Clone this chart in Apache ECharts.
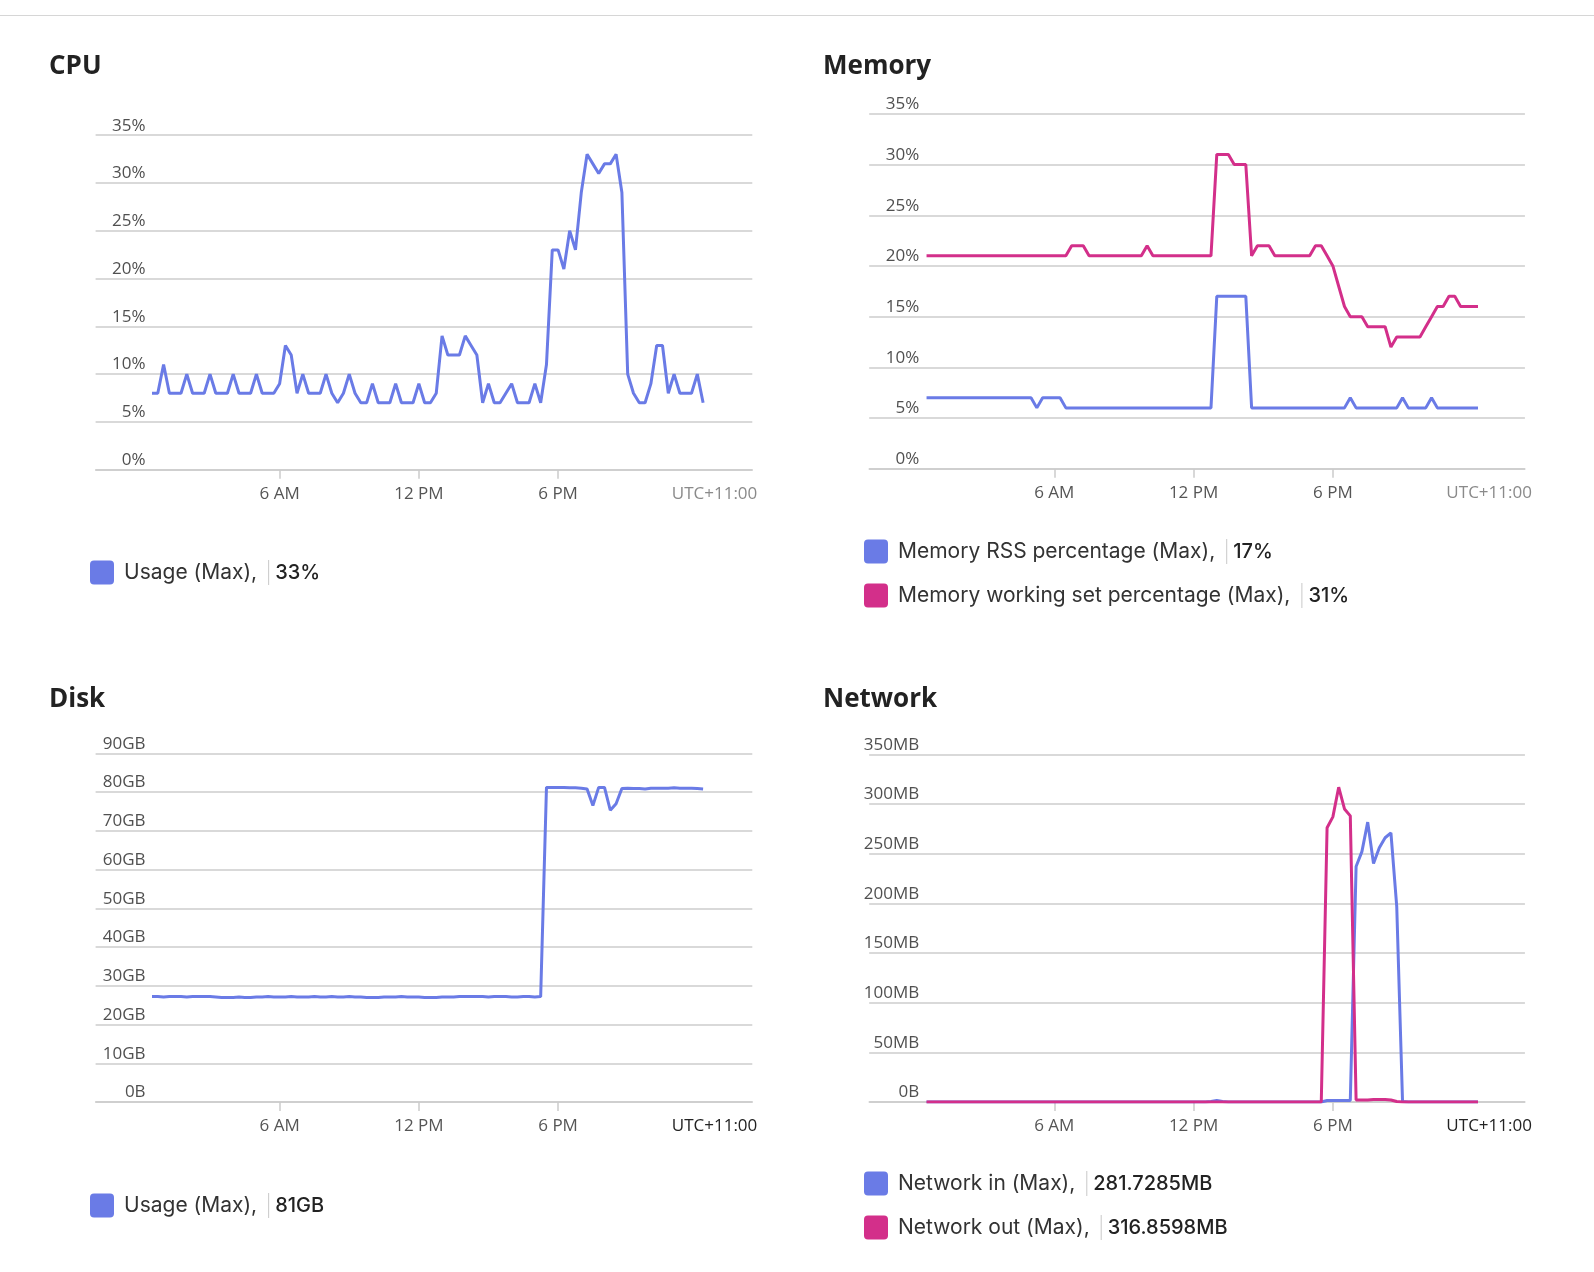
<!DOCTYPE html>
<html>
<head>
<meta charset="utf-8">
<title>Container metrics</title>
<script src="https://cdn.jsdelivr.net/npm/echarts@6/dist/echarts.min.js"></script>
<style>
    html, body { margin: 0; padding: 0; background: #ffffff; }
    body { width: 1594px; height: 1272px; position: relative; overflow: hidden; }
    #topline { position: absolute; left: 0; top: 15px; width: 1594px; height: 0; border-top: 1px solid #d6d6d6; }
    .panel { position: absolute; }
    #cpu { left: 0; top: 0; width: 797px; height: 632px; }
    #memory { left: 774px; top: 0; width: 820px; height: 632px; }
    #disk { left: 0; top: 632px; width: 797px; height: 640px; }
    #network { left: 774px; top: 632px; width: 820px; height: 640px; }
</style>
</head>
<body>
<div id="topline"></div>
<div id="cpu" class="panel"></div>
<div id="memory" class="panel"></div>
<div id="disk" class="panel"></div>
<div id="network" class="panel"></div>
<script>
// one sample every 15 minutes, from 00:30 to 00:15 next day (hours)
var startHour = 0.5
var stepHour = 0.25
var sampleCount = 96
var times = []
for (var i = 0; i < sampleCount; i++) {
    times.push(startHour + i * stepHour)
}

var tickHours = [6, 12, 18]
var tickLabels = ['6 AM', '12 PM', '6 PM']
var zoneLabel = 'UTC+11:00'

// CPU usage (%)
var cpuUsage = [
    8, 8, 11, 8, 8, 8, 10, 8,
    8, 8, 10, 8, 8, 8, 10, 8,
    8, 8, 10, 8, 8, 8, 9, 13,
    12, 8, 10, 8, 8, 8, 10, 8,
    7, 8, 10, 8, 7, 7, 9, 7,
    7, 7, 9, 7, 7, 7, 9, 7,
    7, 8, 14, 12, 12, 12, 14, 13,
    12, 7, 9, 7, 7, 8, 9, 7,
    7, 7, 9, 7, 11, 23, 23, 21,
    25, 23, 29, 33, 32, 31, 32, 32,
    33, 29, 10, 8, 7, 7, 9, 13,
    13, 8, 10, 8, 8, 8, 10, 7
]

// Memory RSS (%)
var memRss = [
    7, 7, 7, 7, 7, 7, 7, 7,
    7, 7, 7, 7, 7, 7, 7, 7,
    7, 7, 7, 6, 7, 7, 7, 7,
    6, 6, 6, 6, 6, 6, 6, 6,
    6, 6, 6, 6, 6, 6, 6, 6,
    6, 6, 6, 6, 6, 6, 6, 6,
    6, 6, 17, 17, 17, 17, 17, 17,
    6, 6, 6, 6, 6, 6, 6, 6,
    6, 6, 6, 6, 6, 6, 6, 6,
    6, 7, 6, 6, 6, 6, 6, 6,
    6, 6, 7, 6, 6, 6, 6, 7,
    6, 6, 6, 6, 6, 6, 6, 6
]

// Memory working set (%)
var memWorkingSet = [
    21, 21, 21, 21, 21, 21, 21, 21,
    21, 21, 21, 21, 21, 21, 21, 21,
    21, 21, 21, 21, 21, 21, 21, 21,
    21, 22, 22, 22, 21, 21, 21, 21,
    21, 21, 21, 21, 21, 21, 22, 21,
    21, 21, 21, 21, 21, 21, 21, 21,
    21, 21, 31, 31, 31, 30, 30, 30,
    21, 22, 22, 22, 21, 21, 21, 21,
    21, 21, 21, 22, 22, 21, 20, 18,
    16, 15, 15, 15, 14, 14, 14, 14,
    12, 13, 13, 13, 13, 13, 14, 15,
    16, 16, 17, 17, 16, 16, 16, 16
]

// Disk usage (GB)
var diskUsage = [
    27.2, 27.2, 27.1, 27.2, 27.2, 27.2, 27.1, 27.2,
    27.2, 27.2, 27.2, 27.1, 27.0, 27.0, 27.0, 27.1,
    27.0, 27.0, 27.1, 27.1, 27.2, 27.1, 27.1, 27.1,
    27.2, 27.1, 27.1, 27.1, 27.2, 27.1, 27.1, 27.2,
    27.1, 27.1, 27.2, 27.1, 27.1, 27.0, 27.0, 27.0,
    27.1, 27.1, 27.1, 27.2, 27.1, 27.1, 27.1, 27.0,
    27.0, 27.0, 27.1, 27.1, 27.1, 27.2, 27.2, 27.2,
    27.2, 27.2, 27.1, 27.2, 27.2, 27.2, 27.1, 27.1,
    27.2, 27.2, 27.1, 27.2, 81.2, 81.2, 81.2, 81.2,
    81.1, 81.1, 81.0, 80.8, 76.5, 81.2, 81.2, 75.3,
    77.0, 80.9, 81.0, 80.9, 80.9, 80.8, 81.0, 81.0,
    81.0, 81.0, 81.1, 81.0, 81.0, 81.0, 80.9, 80.8
]

// Network in (MB)
var netIn = [
    0, 0, 0, 0, 0, 0, 0, 0,
    0, 0, 0, 0, 0, 0, 0, 0,
    0, 0, 0, 0, 0, 0, 0, 0,
    0, 0, 0, 0, 0, 0, 0, 0,
    0, 0, 0, 0, 0, 0, 0, 0,
    0, 0, 0, 0, 0, 0, 0, 0,
    0, 0.5, 1.5, 0.5, 0, 0, 0, 0,
    0, 0, 0, 0, 0, 0, 0, 0,
    0, 0, 0, 0, 0, 1.5, 1.5, 1.5,
    1.5, 1.5, 237, 252, 281.7285, 240, 256, 266,
    271, 197, 0.5, 0, 0, 0, 0, 0,
    0, 0, 0, 0, 0, 0, 0, 0
]

// Network out (MB)
var netOut = [
    0, 0, 0, 0, 0, 0, 0, 0,
    0, 0, 0, 0, 0, 0, 0, 0,
    0, 0, 0, 0, 0, 0, 0, 0,
    0, 0, 0, 0, 0, 0, 0, 0,
    0, 0, 0, 0, 0, 0, 0, 0,
    0, 0, 0, 0, 0, 0, 0, 0,
    0, 0, 0, 0, 0, 0, 0, 0,
    0, 0, 0, 0, 0, 0, 0, 0,
    0, 0, 0, 0, 0, 276, 287, 316.8598,
    295, 288, 2, 2, 2, 2.5, 2.5, 2.5,
    2, 0.5, 0, 0, 0, 0, 0, 0,
    0, 0, 0, 0, 0, 0, 0, 0
]

var BLUE = '#6a7be6'
var PINK = '#d32f8a'
var GRID_LINE = '#cccccc'
var AXIS_FONT = 'Open Sans'
var LEGEND_FONT = 'Inter'
var ICON = 'path://M4,0H20A4,4,0,0,1,24,4V20A4,4,0,0,1,20,24H4A4,4,0,0,1,0,20V4A4,4,0,0,1,4,0Z'

function xAxisCfg(min, max, zoneColor, nameGap) {
    return {
        type: 'value',
        min: min,
        max: max,
        axisLine: { lineStyle: { color: GRID_LINE, width: 1.5 } },
        axisTick: { customValues: tickHours, length: 9, lineStyle: { color: GRID_LINE, width: 1.5 } },
        axisLabel: {
            customValues: tickHours,
            formatter: function (v) { return tickLabels[tickHours.indexOf(v)] },
            margin: 16,
            color: '#555555',
            fontSize: 17,
            fontFamily: AXIS_FONT
        },
        splitLine: { show: false },
        name: zoneLabel,
        nameLocation: 'end',
        nameGap: nameGap,
        nameTextStyle: {
            align: 'right',
            verticalAlign: 'top',
            padding: [16, 0, 0, 0],
            color: zoneColor,
            fontSize: 17,
            fontFamily: AXIS_FONT
        }
    }
}

function yAxisCfg(max, interval, fmt) {
    return {
        type: 'value',
        min: 0,
        max: max,
        interval: interval,
        axisLine: { show: false },
        axisTick: { show: false },
        splitLine: { lineStyle: { color: GRID_LINE, width: 1.5 } },
        axisLabel: {
            inside: true,
            align: 'right',
            verticalAlign: 'bottom',
            margin: 50,
            padding: [0, 0, 1, 0],
            color: '#505050',
            fontSize: 17,
            fontFamily: AXIS_FONT,
            formatter: fmt
        }
    }
}

function legendCfg(top, names, maxValues) {
    return {
        left: 90,
        top: top,
        padding: 0,
        orient: 'vertical',
        itemWidth: 24,
        itemHeight: 24,
        itemGap: 19,
        icon: ICON,
        selectedMode: false,
        data: names,
        formatter: function (name) {
            return '{n|' + name + ',}{s| }{v|' + maxValues[names.indexOf(name)] + '}'
        },
        textStyle: {
            rich: {
                n: { fontFamily: LEGEND_FONT, fontSize: 21, color: '#333333', lineHeight: 25, padding: [0, 11, 0, 5] },
                s: { width: 1, height: 25, lineHeight: 25, backgroundColor: '#c8c8c8' },
                v: { fontFamily: LEGEND_FONT, fontSize: 20, fontWeight: 500, color: '#222222', lineHeight: 25, padding: [0, 0, 0, 6] }
            }
        }
    }
}

function lineSeries(name, color, values) {
    var pts = []
    for (var i = 0; i < values.length; i++) {
        pts.push([times[i], values[i]])
    }
    return {
        name: name,
        type: 'line',
        data: pts,
        symbol: 'none',
        showSymbol: false,
        lineStyle: { width: 3, color: color },
        itemStyle: { color: color },
        emphasis: { disabled: true }
    }
}

function titleCfg(text, top) {
    return {
        text: text,
        left: 49,
        top: top,
        padding: 0,
        textStyle: { fontFamily: AXIS_FONT, fontSize: 26, fontWeight: 'bold', color: '#222222' }
    }
}

function pct(v) { return v + '%' }
function gb(v) { return v === 0 ? '0B' : v + 'GB' }
function mb(v) { return v === 0 ? '0B' : v + 'MB' }

function drawPanel(id, cfg) {
    var chart = echarts.init(document.getElementById(id))
    chart.setOption({
        animation: false,
        title: titleCfg(cfg.title, cfg.titleTop),
        tooltip: { show: false },
        legend: legendCfg(cfg.legendTop, cfg.names, cfg.maxValues),
        grid: cfg.grid,
        xAxis: xAxisCfg(cfg.xMin, cfg.xMax, cfg.zoneColor, cfg.nameGap),
        yAxis: yAxisCfg(cfg.yMax, cfg.yInterval, cfg.yFmt),
        series: cfg.series
    })
    return chart
}

// CPU
drawPanel('cpu', {
    title: 'CPU', titleTop: 54,
    names: ['Usage (Max)'], maxValues: ['33%'], legendTop: 560,
    grid: { left: 95.6, top: 135.2, width: 656.7, height: 334.5, outerBoundsMode: 'none' },
    xMin: -1.93, xMax: 26.37, zoneColor: '#8a8a8a', nameGap: 5,
    yMax: 35, yInterval: 5, yFmt: pct,
    series: [lineSeries('Usage (Max)', BLUE, cpuUsage)]
})

// Memory
drawPanel('memory', {
    title: 'Memory', titleTop: 54,
    names: ['Memory RSS percentage (Max)', 'Memory working set percentage (Max)'],
    maxValues: ['17%', '31%'], legendTop: 539,
    grid: { left: 95.2, top: 113.9, width: 655.7, height: 354.8, outerBoundsMode: 'none' },
    xMin: -1.97, xMax: 26.27, zoneColor: '#8a8a8a', nameGap: 7,
    yMax: 35, yInterval: 5, yFmt: pct,
    series: [
        lineSeries('Memory RSS percentage (Max)', BLUE, memRss),
        lineSeries('Memory working set percentage (Max)', PINK, memWorkingSet)
    ]
})

// Disk
drawPanel('disk', {
    title: 'Disk', titleTop: 55,
    names: ['Usage (Max)'], maxValues: ['81GB'], legendTop: 561,
    grid: { left: 95.6, top: 121.3, width: 656.7, height: 348.7, outerBoundsMode: 'none' },
    xMin: -1.93, xMax: 26.37, zoneColor: '#222222', nameGap: 5,
    yMax: 90, yInterval: 10, yFmt: gb,
    series: [lineSeries('Usage (Max)', BLUE, diskUsage)]
})

// Network
drawPanel('network', {
    title: 'Network', titleTop: 55,
    names: ['Network in (Max)', 'Network out (Max)'],
    maxValues: ['281.7285MB', '316.8598MB'], legendTop: 539,
    grid: { left: 95.2, top: 122.3, width: 655.7, height: 347.7, outerBoundsMode: 'none' },
    xMin: -1.97, xMax: 26.27, zoneColor: '#222222', nameGap: 7,
    yMax: 350, yInterval: 50, yFmt: mb,
    series: [
        lineSeries('Network in (Max)', BLUE, netIn),
        lineSeries('Network out (Max)', PINK, netOut)
    ]
})
</script>
</body>
</html>
